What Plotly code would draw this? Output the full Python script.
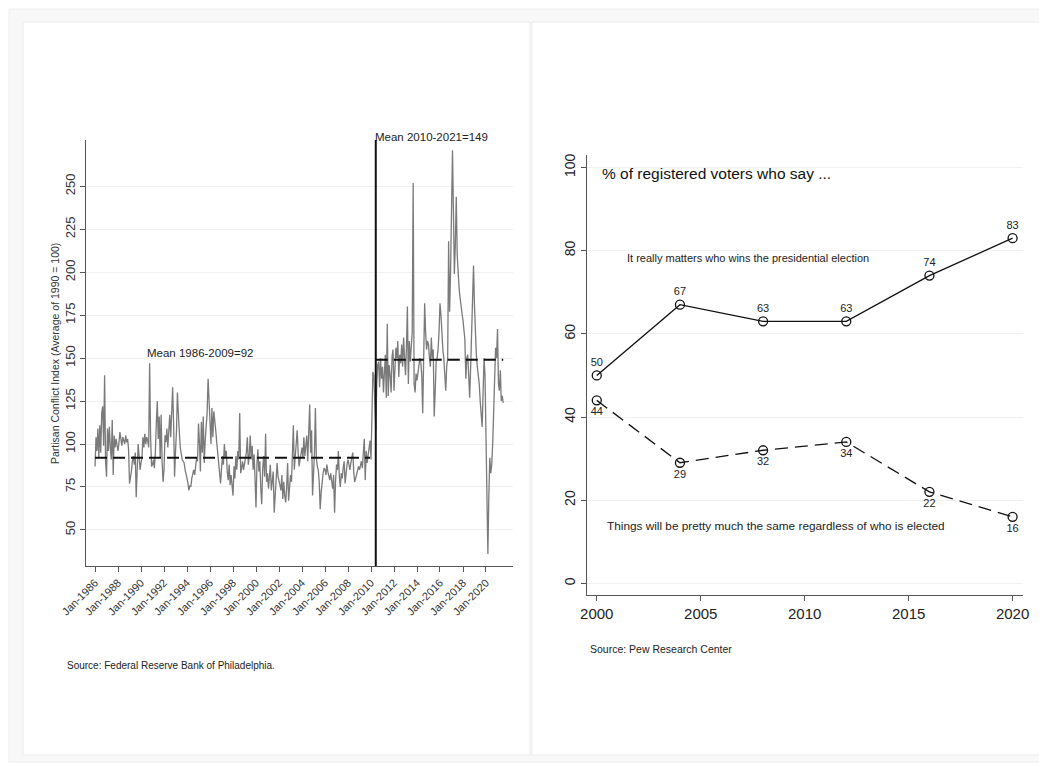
import pandas as pd
import plotly.graph_objects as go

PAGE_W, PAGE_H = 1047, 767
OFF = 8  # default body margin of the written html page
W, H = PAGE_W - OFF, PAGE_H - OFF

# ---------------- Data: Partisan Conflict Index (monthly) ----------------
pci_start = "1986-01-01"
pci_1986_2009 = [
    87, 104, 96, 109, 92, 111, 95, 118, 122, 99, 140, 90,      # 1986
    81, 109, 96, 110, 98, 91, 114, 82, 105, 98, 103, 100,      # 1987
    96, 101, 107, 103, 99, 104, 102, 100, 105, 101, 103, 97,   # 1988
    77, 80, 84, 90, 93, 88, 95, 69, 82, 100, 93, 85,           # 1989
    89, 92, 104, 98, 106, 100, 104, 102, 98, 147, 104, 87,     # 1990
    88, 91, 86, 95, 112, 125, 103, 116, 92, 117, 90, 78,       # 1991
    85, 105, 101, 109, 98, 113, 117, 104, 120, 133, 112, 81,   # 1992
    96, 108, 130, 113, 107, 98, 93, 91, 90, 89, 85, 83,        # 1993
    80, 77, 73, 76, 75, 80, 83, 85, 82, 88, 92, 90,            # 1994
    112, 100, 84, 113, 95, 116, 89, 102, 110, 118, 138, 126,   # 1995
    118, 100, 121, 104, 119, 110, 108, 101, 95, 90, 86, 77,    # 1996
    86, 93, 88, 100, 92, 96, 84, 79, 88, 76, 82, 74,           # 1997
    70, 87, 80, 93, 85, 96, 91, 118, 83, 86, 90, 85,           # 1998
    89, 92, 95, 104, 88, 93, 105, 91, 99, 85, 94, 80,          # 1999
    63, 89, 97, 84, 90, 74, 65, 86, 93, 81, 106, 78,           # 2000
    83, 74, 80, 88, 73, 77, 84, 60, 70, 78, 89, 81,            # 2001
    79, 76, 73, 82, 68, 78, 70, 66, 75, 89, 67, 79,            # 2002
    82, 78, 96, 111, 85, 92, 100, 108, 95, 87, 91, 96,         # 2003
    98, 92, 104, 93, 99, 105, 90, 112, 123, 95, 108, 70,       # 2004
    84, 95, 121, 92, 87, 85, 78, 62, 72, 80, 83, 86,           # 2005
    85, 82, 88, 84, 80, 79, 83, 76, 74, 82, 60, 78,            # 2006
    88, 85, 96, 81, 75, 83, 80, 86, 90, 77, 84, 88,            # 2007
    91, 86, 85, 89, 93, 95, 84, 78, 80, 83, 86, 87,            # 2008
    85, 88, 90, 86, 93, 103, 79, 96, 89, 94, 98, 102,          # 2009
]
pci_2010_2021 = [
    91, 112, 142, 140, 128, 108, 135, 146, 148, 133, 150, 138,     # 2010
    145, 130, 141, 152, 127, 170, 128, 146, 140, 130, 151, 155,    # 2011
    131, 148, 156, 150, 160, 139, 152, 147, 158, 145, 162, 150,    # 2012
    140, 157, 180, 135, 160, 148, 155, 165, 252, 135, 130, 141,    # 2013
    137, 142, 146, 150, 148, 140, 118, 160, 182, 165, 155, 160,    # 2014
    158, 150, 145, 162, 150, 155, 116, 130, 148, 150, 155, 165,    # 2015
    182, 175, 160, 155, 150, 140, 131, 145, 150, 218, 177, 200,    # 2016
    238, 271, 238, 199, 215, 244, 210, 196, 190, 185, 178, 176,    # 2017
    172, 165, 161, 138, 150, 152, 140, 127, 145, 163, 175, 204,    # 2018
    180, 160, 152, 145, 141, 135, 125, 118, 110, 130, 150, 140,    # 2019
    95, 62, 36, 70, 92, 83, 88, 100, 122, 140, 156, 150,           # 2020
    167, 135, 131, 143, 125, 128, 124,                             # 2021
]
mean_periods = [("1986-01-01", "2009-12-01"), ("2010-06-01", "2021-07-01")]
mean_values = [92, 149]
mean_labels = ["Mean 1986-2009=92", "Mean 2010-2021=149"]
break_date = "2010-06-01"
pci_tick_years = list(range(1986, 2021, 2))

# ---------------- Data: Pew survey ----------------
years = [2000, 2004, 2008, 2012, 2016, 2020]
matters = [50, 67, 63, 63, 74, 83]
same = [44, 29, 32, 34, 22, 16]

# ---------------- Build ----------------
pci_values = pci_1986_2009 + pci_2010_2021
pci_dates = pd.date_range(pci_start, periods=len(pci_values), freq="MS")


def px(x):
    """page pixel x -> paper fraction"""
    return (x - OFF) / W


def py(y):
    """page pixel y -> paper fraction"""
    return 1 - (y - OFF) / H


FONT = "Liberation Sans, Arial, Helvetica, sans-serif"

fig = go.Figure()

# Left chart
fig.add_trace(go.Scatter(
    x=pci_dates, y=pci_values, mode="lines",
    line=dict(color="#7a7a7a", width=1.3),
    xaxis="x", yaxis="y", showlegend=False, hoverinfo="x+y"))
for (a, b), m in zip(mean_periods, mean_values):
    fig.add_trace(go.Scatter(
        x=[a, b], y=[m, m], mode="lines",
        line=dict(color="#111111", width=2, dash="12px,6px"),
        xaxis="x", yaxis="y", showlegend=False, hoverinfo="skip"))

# Right chart
fig.add_trace(go.Scatter(
    x=years, y=matters, mode="lines+markers+text",
    text=[str(v) for v in matters], textposition="top center",
    textfont=dict(family=FONT, size=11, color="#222"),
    line=dict(color="#111111", width=1.3),
    marker=dict(symbol="circle-open", size=9, color="#111111", line=dict(width=1.3)),
    xaxis="x2", yaxis="y2", showlegend=False, cliponaxis=False))
fig.add_trace(go.Scatter(
    x=years, y=same, mode="lines+markers+text",
    text=[str(v) for v in same], textposition="bottom center",
    textfont=dict(family=FONT, size=11, color="#222"),
    line=dict(color="#111111", width=1.3, dash="13px,7px"),
    marker=dict(symbol="circle-open", size=9, color="#111111", line=dict(width=1.3)),
    xaxis="x2", yaxis="y2", showlegend=False, cliponaxis=False))

axis_common = dict(showline=True, linecolor="#555", linewidth=1.2, ticks="outside",
                   ticklen=5, tickcolor="#555", zeroline=False, mirror=False,
                   automargin=False)

fig.update_layout(
    template="none",
    width=W, height=H, autosize=False,
    margin=dict(l=0, r=0, t=0, b=0, pad=0),
    paper_bgcolor="white",
    plot_bgcolor="rgba(0,0,0,0)",
    font=dict(family=FONT, color="#222"),
    xaxis=dict(
        domain=[px(86), px(513)], anchor="y", type="date",
        range=["1985-03-20", "2022-05-08"],
        tickvals=[f"{y}-01-01" for y in pci_tick_years],
        ticktext=[f"Jan-{y}" for y in pci_tick_years],
        tickangle=-45, tickfont=dict(size=11, color="#333"),
        showgrid=False, **axis_common),
    yaxis=dict(
        domain=[py(566), py(140)], anchor="x",
        range=[29, 277], tickvals=[50, 75, 100, 125, 150, 175, 200, 225, 250],
        tickangle=-90, tickfont=dict(size=13, color="#333"),
        showgrid=True, gridcolor="#f0f0f0", gridwidth=1, **axis_common),
    xaxis2=dict(
        domain=[px(587), px(1023)], anchor="y2",
        range=[1999.53, 2020.5], tickvals=[2000, 2005, 2010, 2015, 2020],
        tickfont=dict(size=15, color="#222"),
        showgrid=False, **axis_common),
    yaxis2=dict(
        domain=[py(595), py(155)], anchor="x2",
        range=[-2.8, 103], tickvals=[0, 20, 40, 60, 80, 100],
        tickangle=-90, tickfont=dict(size=14, color="#222"),
        showgrid=True, gridcolor="#f0f0f0", gridwidth=1, **axis_common),
)

# vertical break line
fig.add_shape(type="line", xref="x", yref="y", x0=break_date, x1=break_date,
              y0=29, y1=277, line=dict(color="#111", width=2))

# page frames
fig.add_shape(type="rect", xref="paper", yref="paper", layer="below",
              x0=px(9), x1=px(1042), y0=py(762), y1=py(9),
              fillcolor="#f8f8f8", line=dict(color="#eeeeee", width=1))
for x0, x1 in [(23, 530), (532, 1040)]:
    fig.add_shape(type="rect", xref="paper", yref="paper", layer="below",
                  x0=px(x0), x1=px(x1), y0=py(755), y1=py(22),
                  fillcolor="white", line=dict(color="#ebebeb", width=1))

ann = []
ann.append(dict(x=px(55), y=py(354), xref="paper", yref="paper", textangle=-90,
                xanchor="center", yanchor="middle",
                text="Partisan Conflict Index (Average of 1990 = 100)",
                showarrow=False, font=dict(size=10.5, color="#333")))
ann.append(dict(x=px(145), y=py(353), xref="paper", yref="paper", xanchor="left",
                text=mean_labels[0], showarrow=False, font=dict(size=11.5, color="#222")))
ann.append(dict(x=px(373), y=py(129), xref="paper", yref="paper", xanchor="left",
                text=mean_labels[1], showarrow=False, font=dict(size=11.5, color="#222")))
ann.append(dict(x=px(65), y=py(673), xref="paper", yref="paper", xanchor="left",
                text="Source: Federal Reserve Bank of Philadelphia.", showarrow=False,
                font=dict(size=10, color="#222")))
ann.append(dict(x=px(600), y=py(163), xref="paper", yref="paper", xanchor="left",
                text="% of registered voters who say ...", showarrow=False,
                font=dict(size=15.5, color="#111")))
ann.append(dict(x=px(625), y=py(250), xref="paper", yref="paper", xanchor="left",
                text="It really matters who wins the presidential election", showarrow=False,
                font=dict(size=11, color="#222")))
ann.append(dict(x=px(605), y=py(535), xref="paper", yref="paper", xanchor="left",
                text="Things will be pretty much the same regardless of who is elected",
                showarrow=False, font=dict(size=11.8, color="#222")))
ann.append(dict(x=px(588), y=py(657), xref="paper", yref="paper", xanchor="left",
                text="Source: Pew Research Center", showarrow=False,
                font=dict(size=10.5, color="#222")))
fig.update_layout(annotations=ann)

fig.write_html("out.html")
